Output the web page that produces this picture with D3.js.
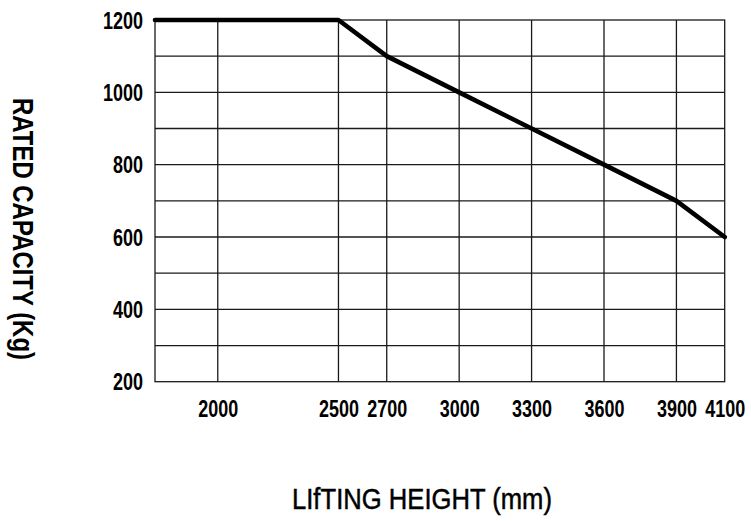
<!DOCTYPE html>
<html>
<head>
<meta charset="utf-8">
<script src="https://cdn.jsdelivr.net/npm/d3@7"></script>
<style>
  html, body { margin: 0; padding: 0; background: #fff; }
  svg { display: block; }
  text { font-family: "Liberation Sans", Arial, sans-serif; fill: #000; }
</style>
</head>
<body>
<svg id="chart" width="751" height="521"></svg>
<script>
// ---- data ----
const heights = [1740, 2500, 2700, 3000, 3300, 3600, 3900, 4100];
const capacities = [1200, 1200, 1100, 1000, 900, 800, 700, 600];
const xTickValues = [2000, 2500, 2700, 3000, 3300, 3600, 3900, 4100];
const xGridValues = [2000, 2500, 2700, 3000, 3300, 3600, 3900];
const yTickValues = [200, 400, 600, 800, 1000, 1200];
const yGridValues = [300, 400, 500, 600, 700, 800, 900, 1000, 1100];
const xTitle = "LIfTING HEIGHT (mm)";
const yTitle = "RATED CAPACITY (Kg)";

// ---- layout ----
const svg = d3.select("#chart");
const pL = 155, pR = 724.7, pT = 20, pB = 381.7;
const digitW = 10;

const x = d3.scaleLinear().domain([1740, 4100]).range([pL, pR]);
const y = d3.scaleLinear().domain([200, 1200]).range([pB, pT]);

// grid
const g = svg.append("g");
g.selectAll("line.vg").data(xGridValues).enter().append("line")
  .attr("x1", d => x(d)).attr("x2", d => x(d))
  .attr("y1", pT).attr("y2", pB)
  .attr("stroke", "#1a1a1a").attr("stroke-width", 1.3);
g.selectAll("line.hg").data(yGridValues).enter().append("line")
  .attr("x1", pL).attr("x2", pR)
  .attr("y1", d => y(d)).attr("y2", d => y(d))
  .attr("stroke", "#1a1a1a").attr("stroke-width", 1.3);
// frame
g.append("rect")
  .attr("x", pL).attr("y", pT)
  .attr("width", pR - pL).attr("height", pB - pT)
  .attr("fill", "none").attr("stroke", "#1a1a1a").attr("stroke-width", 1.3);

// axes labels via d3 axes
const yAxis = d3.axisLeft(y).tickValues(yTickValues).tickSize(0).tickPadding(12).tickFormat(d3.format("d"));
const ya = svg.append("g").attr("transform", `translate(${pL},0)`).call(yAxis);
ya.select(".domain").remove();
ya.selectAll("text")
  .attr("font-family", '"Liberation Sans", Arial, sans-serif')
  .attr("font-size", 23).attr("font-weight", "bold").attr("fill", "#000")
  .attr("dy", "0.36em")
  .attr("textLength", d => String(d).length * digitW)
  .attr("lengthAdjust", "spacingAndGlyphs");

const xAxis = d3.axisBottom(x).tickValues(xTickValues).tickSize(0).tickPadding(19).tickFormat(d3.format("d"));
const xa = svg.append("g").attr("transform", `translate(0,${pB})`).call(xAxis);
xa.select(".domain").remove();
xa.selectAll("text")
  .attr("font-family", '"Liberation Sans", Arial, sans-serif')
  .attr("font-size", 23).attr("font-weight", "bold").attr("fill", "#000")
  .attr("dy", "0.71em")
  .attr("textLength", d => String(d).length * digitW)
  .attr("lengthAdjust", "spacingAndGlyphs");

// curve
const line = d3.line().x((d, i) => x(heights[i])).y(d => y(d));
svg.append("path")
  .datum(capacities)
  .attr("d", line)
  .attr("fill", "none")
  .attr("stroke", "#000")
  .attr("stroke-width", 4.6)
  .attr("stroke-linejoin", "round")
  .attr("stroke-linecap", "round");

// titles
svg.append("text")
  .attr("x", 422).attr("y", 509)
  .attr("text-anchor", "middle")
  .attr("font-size", 30)
  .attr("stroke", "#000").attr("stroke-width", 0.5)
  .attr("textLength", 260).attr("lengthAdjust", "spacingAndGlyphs")
  .text(xTitle);

svg.append("text")
  .attr("transform", "translate(13,229) rotate(90)")
  .attr("text-anchor", "middle")
  .attr("font-size", 29)
  .attr("font-weight", "bold")
  .attr("textLength", 262).attr("lengthAdjust", "spacingAndGlyphs")
  .text(yTitle);
</script>
</body>
</html>
